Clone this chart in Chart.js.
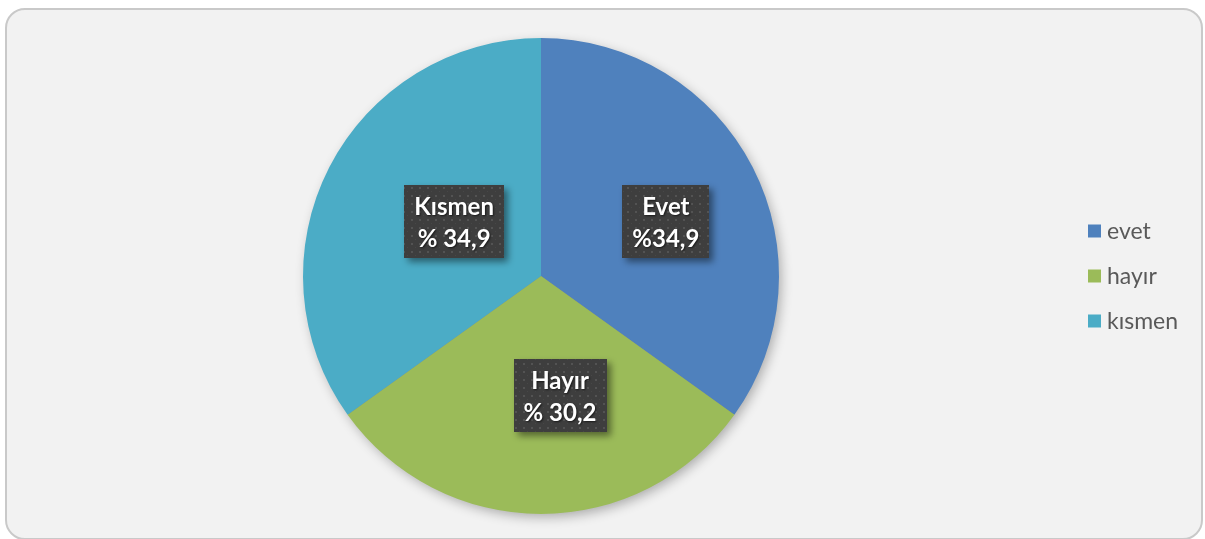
<!DOCTYPE html>
<html>
<head>
<meta charset="utf-8">
<script src="https://cdn.jsdelivr.net/npm/chart.js@4"></script>
<style>
  html, body { margin: 0; padding: 0; background: #fff; }
  #frame {
    position: absolute; left: 5px; top: 8px;
    width: 1194px; height: 528px;
    border: 2px solid #c9c9c9; border-radius: 20px;
    background: #f2f2f2;
  }
  #wrap { position: absolute; left: 0; top: 0; width: 1205px; height: 539px; }
</style>
</head>
<body>
<div id="frame"></div>
<div id="wrap"><canvas id="pieChart" width="1205" height="539"></canvas></div>
<script>
// Chart data
const categories = ['evet', 'hayır', 'kısmen'];
const percentages = [34.9, 30.2, 34.9];
const labelLines = [['Evet', '%34,9'], ['Hayır', '% 30,2'], ['Kısmen', '% 34,9']];
const sliceColors = ['#4f81bd', '#9bbb59', '#4bacc6'];

// dotted fill used behind the data labels
function makeDotPattern(ctx) {
  const c = document.createElement('canvas');
  c.width = 8; c.height = 8;
  const p = c.getContext('2d');
  p.fillStyle = '#3e3e3e';
  p.fillRect(0, 0, 8, 8);
  p.fillStyle = '#535353';
  p.fillRect(3, 3, 2, 2);
  p.fillStyle = '#474747';
  p.fillRect(7, 7, 1, 1);
  return ctx.createPattern(c, 'repeat');
}

// soft shadow under the pie
const pieShadow = {
  id: 'pieShadow',
  beforeDatasetsDraw(chart) {
    const arc = chart.getDatasetMeta(0).data[0];
    if (!arc) return;
    const ctx = chart.ctx;
    ctx.save();
    ctx.shadowColor = 'rgba(0,0,0,0.3)';
    ctx.shadowBlur = 12;
    ctx.shadowOffsetX = 3;
    ctx.shadowOffsetY = 4;
    ctx.fillStyle = '#888';
    ctx.beginPath();
    ctx.arc(arc.x, arc.y, arc.outerRadius - 1, 0, Math.PI * 2);
    ctx.fill();
    ctx.restore();
  }
};

// dark boxes with two-line labels
const labelBoxes = {
  id: 'labelBoxes',
  afterDatasetsDraw(chart) {
    const ctx = chart.ctx;
    const pattern = makeDotPattern(ctx);
    ctx.save();
    ctx.font = 'bold 24px Lato';
    chart.getDatasetMeta(0).data.forEach((arc, i) => {
      const pos = arc.tooltipPosition();
      const cx = pos.x + 19, cy = pos.y;
      const lines = labelLines[i];
      const tw = Math.max(...lines.map(t => ctx.measureText(t).width));
      const w = Math.round(tw + 20), h = 73;
      const x = Math.round(cx - w / 2), y = Math.round(cy - h / 2);

      ctx.save();
      ctx.shadowColor = 'rgba(0,0,0,0.45)';
      ctx.shadowBlur = 7;
      ctx.shadowOffsetX = 4;
      ctx.shadowOffsetY = 4;
      ctx.fillStyle = pattern;
      ctx.fillRect(x, y, w, h);
      ctx.restore();

      ctx.save();
      ctx.fillStyle = '#ffffff';
      ctx.textAlign = 'center';
      ctx.textBaseline = 'alphabetic';
      ctx.shadowColor = 'rgba(0,0,0,0.6)';
      ctx.shadowBlur = 2;
      ctx.shadowOffsetX = 1;
      ctx.shadowOffsetY = 1;
      ctx.fillText(lines[0], cx, y + 30);
      ctx.fillText(lines[1], cx, y + 62);
      ctx.restore();
    });
    ctx.restore();
  }
};

// legend on the right
const sideLegend = {
  id: 'sideLegend',
  afterDraw(chart) {
    const ctx = chart.ctx;
    const colors = chart.data.datasets[0].backgroundColor;
    ctx.save();
    ctx.font = '23px Lato';
    ctx.textBaseline = 'middle';
    ctx.textAlign = 'left';
    chart.data.labels.forEach((label, i) => {
      const yc = 231 + i * 45;
      ctx.fillStyle = colors[i];
      ctx.fillRect(1088, yc - 6.5, 13, 13);
      ctx.fillStyle = '#595959';
      ctx.fillText(label, 1107, yc + 1);
    });
    ctx.restore();
  }
};

new Chart(document.getElementById('pieChart'), {
  type: 'pie',
  data: {
    labels: categories,
    datasets: [{
      data: percentages,
      backgroundColor: sliceColors,
      borderWidth: 0
    }]
  },
  options: {
    responsive: false,
    animation: false,
    layout: { padding: { top: 38, bottom: 25, left: 303, right: 426 } },
    plugins: {
      legend: { display: false },
      tooltip: { enabled: false }
    }
  },
  plugins: [pieShadow, labelBoxes, sideLegend]
});
</script>
</body>
</html>
